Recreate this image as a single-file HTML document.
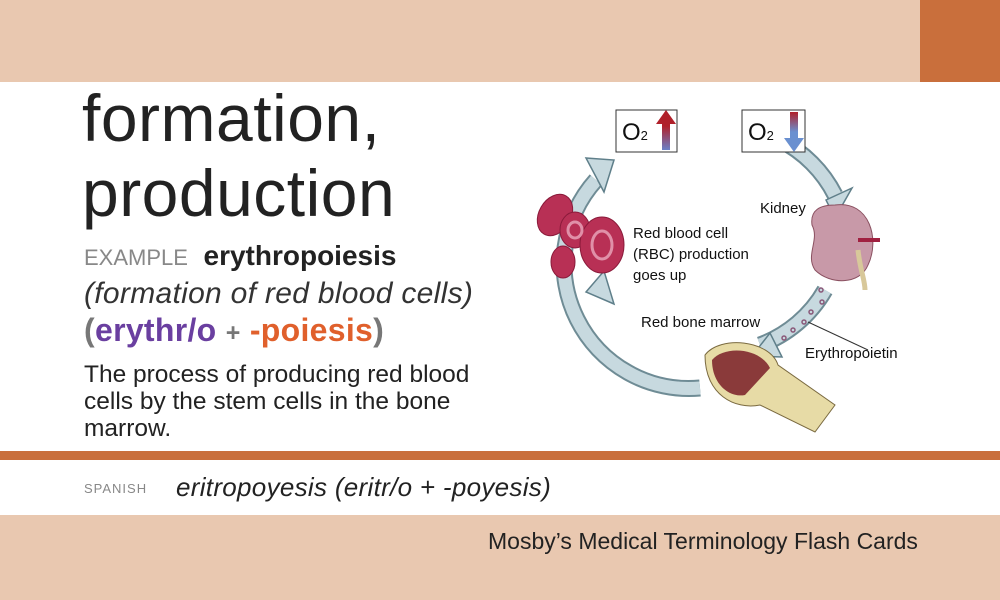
<!DOCTYPE html>
<html><head><meta charset="utf-8"><style>
body{margin:0;width:1000px;height:600px;position:relative;overflow:hidden;background:#fff;font-family:"Liberation Sans",sans-serif;}
.a{position:absolute;white-space:nowrap;}
</style></head><body>
<div class="a" style="left:0;top:0;width:1000px;height:82px;background:#e9c8b0"></div>
<div class="a" style="left:920px;top:0;width:80px;height:82px;background:#c96f3c"></div>
<div class="a" style="left:82px;top:81px;font-size:66px;line-height:75px;color:#222;letter-spacing:0.5px">formation,<br>production</div>
<div class="a" style="left:84px;top:240px;font-size:28px;color:#222"><span style="color:#888;font-size:22px">EXAMPLE</span>&nbsp; <b>erythropoiesis</b></div>
<div class="a" style="left:84px;top:277px;font-size:30px;font-style:italic;color:#333;letter-spacing:0.3px">(formation of red blood cells)</div>
<div class="a" style="left:84px;top:312px;font-size:32px;font-weight:bold;color:#777;letter-spacing:0.3px">(<span style="color:#6a3fa0">erythr/o</span> <span style="font-size:25px">+</span> <span style="color:#e0602c">-poiesis</span>)</div>
<div class="a" style="left:84px;top:361px;font-size:24.5px;line-height:27px;color:#222">The process of producing red blood<br>cells by the stem cells in the bone<br>marrow.</div>
<div class="a" style="left:0;top:451px;width:1000px;height:9px;background:#c96f3c"></div>
<div class="a" style="left:84px;top:472px;font-size:26px;color:#222"><span style="font-size:13px;color:#888;letter-spacing:1px;vertical-align:3px">SPANISH</span>&nbsp;&nbsp;&nbsp; <i style="letter-spacing:0.3px">eritropoyesis (eritr/o + -poyesis)</i></div>
<div class="a" style="left:0;top:515px;width:1000px;height:85px;background:#e9c8b0"></div>
<div class="a" style="left:488px;top:528px;font-size:23px;color:#222">Mosby’s Medical Terminology Flash Cards</div>
<svg class="a" style="left:0;top:0" width="1000" height="600">
<defs>
<linearGradient id="up" x1="0" y1="1" x2="0" y2="0"><stop offset="0" stop-color="#6a80c8"/><stop offset="0.6" stop-color="#b0202a"/></linearGradient>
<linearGradient id="dn" x1="0" y1="0" x2="0" y2="1"><stop offset="0" stop-color="#b0202a"/><stop offset="0.5" stop-color="#6a90d0"/></linearGradient>
</defs>
<g fill="none" stroke="#5f7f8a" stroke-width="17" opacity="0.9">
<path d="M700 388 A 125 125 0 0 1 596 180"/>
<path d="M780 140 A 125 125 0 0 1 835 195"/>
<path d="M825 290 A 125 125 0 0 1 760 345"/>
</g>
<g fill="none" stroke="#c7d9df" stroke-width="13">
<path d="M700 388 A 125 125 0 0 1 596 180"/>
<path d="M780 140 A 125 125 0 0 1 835 195"/>
<path d="M825 290 A 125 125 0 0 1 760 345"/>
</g>
<polygon points="586,158 614,160 604,192 " fill="#c7d9df" stroke="#5f7f8a" stroke-width="1.5"/>
<polygon points="586,292 604,271 614,304" fill="#c7d9df" stroke="#5f7f8a" stroke-width="1.5"/>
<polygon points="826,200 852,188 835,218" fill="#c7d9df" stroke="#5f7f8a" stroke-width="1.5"/>
<polygon points="752,356 770,333 782,357" fill="#c7d9df" stroke="#5f7f8a" stroke-width="1.5"/>
<rect x="616" y="110" width="61" height="42" fill="#fff" stroke="#333"/>
<rect x="742" y="110" width="63" height="42" fill="#fff" stroke="#333"/>
<text x="622" y="140" font-size="24" fill="#111">O<tspan font-size="13">2</tspan></text>
<text x="748" y="140" font-size="24" fill="#111">O<tspan font-size="13">2</tspan></text>
<polygon points="662,150 662,124 656,124 666,110 676,124 670,124 670,150" fill="url(#up)"/>
<polygon points="790,112 790,138 784,138 794,152 804,138 798,138 798,112" fill="url(#dn)"/>
<g fill="#b83055" stroke="#8a1a3a" stroke-width="1">
<ellipse cx="555" cy="215" rx="16" ry="22" transform="rotate(30 555 215)"/>
<ellipse cx="575" cy="230" rx="15" ry="18"/>
<ellipse cx="563" cy="262" rx="12" ry="16"/>
<ellipse cx="602" cy="245" rx="22" ry="28"/>
</g>
<g fill="none" stroke="#e090a8" stroke-width="3"><ellipse cx="602" cy="245" rx="10" ry="14"/><ellipse cx="575" cy="230" rx="7" ry="8"/></g>
<path d="M835 205 C 870 200 880 240 868 265 C 860 285 830 285 815 270 C 805 255 820 240 812 225 C 810 210 820 205 835 205Z" fill="#c899a8" stroke="#8a5060"/>
<path d="M858 240 L880 240" stroke="#a02040" stroke-width="4"/>
<path d="M858 250 C 860 270 865 280 865 290" stroke="#d8c89a" stroke-width="5" fill="none"/>
<g fill="none" stroke="#8a5a7a" stroke-width="1.5"><circle cx="821" cy="290" r="2"/><circle cx="822" cy="302" r="2"/><circle cx="811" cy="312" r="2"/><circle cx="804" cy="322" r="2"/><circle cx="793" cy="330" r="2"/><circle cx="784" cy="338" r="2"/></g>
<path d="M808 322 L868 350" stroke="#333" fill="none"/>
<path d="M705 355 C 720 335 770 340 778 365 L835 405 L815 432 L760 405 C 735 410 705 395 705 355Z" fill="#e7dba6" stroke="#7a6a40"/>
<path d="M712 360 C 725 345 760 348 770 368 L745 395 C 730 398 712 385 712 360Z" fill="#8a3a3a"/>
<g font-size="15" fill="#111">
<text x="633" y="238">Red blood cell</text>
<text x="633" y="259">(RBC) production</text>
<text x="633" y="280">goes up</text>
<text x="760" y="213">Kidney</text>
<text x="641" y="327">Red bone marrow</text>
<text x="805" y="358">Erythropoietin</text>
</g>
</svg>
</body></html>
